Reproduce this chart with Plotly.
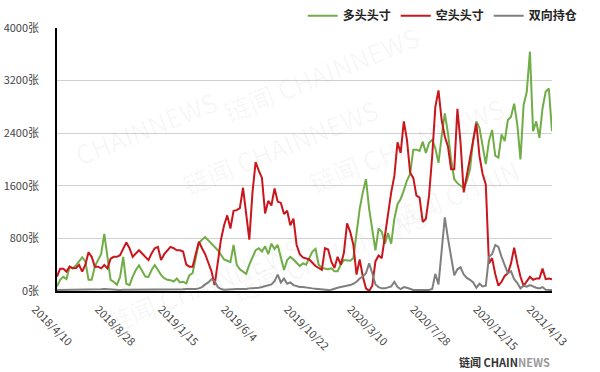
import pandas as pd
import plotly.graph_objects as go

# weekly dates
start_date = "2018-04-10"
n_weeks = 158
dates = pd.date_range(start_date, periods=n_weeks, freq="7D")

long_pos = [70, 170, 215, 180, 370, 345, 390, 460, 510, 450,
            170, 170, 370, 470, 560, 870, 480, 170, 140, 95,
            210, 520, 110, 90, 220, 320, 390, 300, 220, 215,
            320, 395, 320, 245, 195, 170, 165, 145, 190, 130,
            140, 115, 240, 270, 500, 730, 780, 820, 770, 720,
            680, 620, 550, 480, 460, 440, 700, 400, 330, 300,
            260, 400, 520, 620, 650, 600, 680, 560, 720, 640,
            700, 520, 320, 470, 520, 480, 430, 380, 420, 400,
            500, 600, 640, 400, 350, 335, 330, 345, 300, 300,
            400, 470, 470, 460, 500, 850, 1250, 1500, 1700, 1250,
            900, 620, 950, 900, 720, 880, 720, 1100, 1320, 1400,
            1530, 1680, 1780, 2150, 2150, 2130, 2270, 2100, 2250, 2300,
            2170, 1950, 2350, 2700, 2400, 2000, 1700, 1640, 1600, 1570,
            1680, 1850, 2300, 2580, 2480, 2180, 1930, 2280, 2450, 2060,
            2030, 2380, 2280, 2600, 2650, 2850, 2530, 2000, 2830, 3030,
            3640, 2430, 2580, 2330, 2780, 3030, 3080, 2430]

short_pos = [220, 340, 340, 295, 370, 345, 350, 395, 295, 400,
             590, 520, 370, 370, 345, 395, 345, 490, 520, 520,
             545, 650, 740, 650, 520, 570, 620, 570, 520, 470,
             570, 650, 670, 470, 560, 620, 670, 650, 620, 620,
             600, 400, 370, 370, 570, 750, 650, 560, 430, 300,
             90, 450, 780, 1000, 1150, 950, 1220, 1230, 1260, 1570,
             1200, 780, 1500, 1960, 1830, 1720, 1180, 1370, 1300, 1560,
             1360, 1340, 1170, 1220, 1000, 1100, 700, 560, 510, 500,
             480, 430, 380, 350, 320, 650, 630, 450, 350, 520,
             400, 580, 1030, 900, 700, 250, 480, 220, 40, 0,
             80, 450, 540, 500, 850, 1200, 1500, 1750, 2260, 2100,
             2580, 2300, 1800, 1720, 1450, 1420, 1050, 1100, 1450, 2050,
             2800, 3050, 2600, 2350, 2200, 1850, 1850, 2770, 2250, 1500,
             1760, 2000, 2300, 2550, 2050, 1780, 1620, 420, 500, 260,
             80, 140, 230, 270, 420, 660, 420, 217, 80, 140,
             216, 170, 190, 190, 340, 180, 190, 180]

both_pos = [15, 15, 20, 20, 15, 15, 20, 20, 15, 15,
            20, 25, 20, 20, 25, 30, 25, 20, 15, 15,
            15, 20, 20, 15, 15, 20, 20, 15, 15, 15,
            20, 20, 15, 15, 20, 25, 20, 15, 15, 20,
            25, 30, 30, 25, 30, 40, 60, 100, 130, 180,
            150, 60, 30, 20, 25, 30, 35, 30, 30, 25,
            30, 40, 40, 45, 50, 60, 70, 80, 100, 150,
            250, 130, 190, 110, 130, 90, 70, 60, 60, 50,
            40, 40, 35, 30, 20, 15, 15, 20, 40, 50,
            60, 70, 70, 90, 110, 140, 190, 220, 270, 420,
            270, 100, 60, 40, 40, 50, 70, 140, 60, 30,
            60, 50, 30, 15, 15, 15, 15, 15, 15, 30,
            260, 100, 600, 1120, 800, 520, 240, 330, 360, 250,
            200, 170, 130, 50, 110, 70, 80, 520, 560, 700,
            670, 520, 400, 270, 300, 180, 120, 40, 80, 65,
            90, 65, 50, 40, 60, 20, 20, 15]

series_names = ["多头头寸", "空头头寸", "双向持仓"]
series_colors = ["#70AD47", "#C9161C", "#7F7F7F"]

tick_dates = ["2018-04-10", "2018-08-28", "2019-01-15", "2019-06-04", "2019-10-22",
              "2020-03-10", "2020-07-28", "2020-12-15", "2021-04-13"]
tick_text = ["2018/4/10", "2018/8/28", "2019/1/15", "2019/6/4", "2019/10/22",
             "2020/3/10", "2020/7/28", "2020/12/15", "2021/4/13"]
y_ticks = [0, 800, 1600, 2400, 3200, 4000]
y_text = [f"{v}张" for v in y_ticks]

FONT = "Noto Sans CJK SC, Noto Sans, sans-serif"

fig = go.Figure()
for name, vals, col in zip(series_names, [long_pos, short_pos, both_pos], series_colors):
    fig.add_trace(go.Scatter(x=dates, y=vals, mode="lines", name=name,
                             line=dict(color=col, width=2)))

# faint watermarks
wm = [(0.32, 1.05, "链闻 CHAINNEWS"), (0.02, 0.62, "CHAINNEWS"), (0.45, 0.55, "链闻 CHAINNEWS"),
      (0.92, 0.78, "链闻 CHAINNEWS"), (0.08, -0.2, "链闻 CHAINNEWS"), (0.55, -0.08, "链闻 CHAINNEWS"),
      (0.95, 0.2, "链闻 CHAIN")]
for x, y, t in wm:
    fig.add_annotation(x=x, y=y, xref="paper", yref="paper", text=t, showarrow=False,
                       textangle=-22, font=dict(family=FONT, size=26, color="rgba(120,120,120,0.06)"))

# logo
fig.add_annotation(x=1.0, y=-0.27, xref="paper", yref="paper", xanchor="right", yanchor="middle",
                   text="<b>链闻 CHAIN</b><span style='color:#9a9a9a'><b>NEWS</b></span>",
                   showarrow=False, font=dict(family=FONT, size=11, color="#333333"))

fig.update_layout(
    width=600, height=372,
    margin=dict(l=57, r=48, t=28, b=81, autoexpand=False),
    paper_bgcolor="white", plot_bgcolor="white",
    font=dict(family=FONT, size=11, color="#333333"),
    showlegend=True,
    legend=dict(orientation="h", x=1.062, xanchor="right", y=1.102, yanchor="top",
                font=dict(family=FONT, size=12, color="#222222", weight="bold"),
                bgcolor="rgba(0,0,0,0)", itemwidth=30, tracegroupgap=0),
    xaxis=dict(range=[dates[0], dates[-1]], tickvals=pd.to_datetime(tick_dates), ticktext=tick_text,
               tickangle=45, showgrid=False, showline=True, linecolor="#000000", linewidth=1.5,
               ticks="", zeroline=False, tickfont=dict(size=11, color="#444444"),
               ticklabelshift=-22, ticklabelstandoff=6),
    yaxis=dict(range=[0, 4000], tickvals=y_ticks, ticktext=y_text, showgrid=True,
               gridcolor="#D0D0D0", gridwidth=1, showline=True, linecolor="#000000", linewidth=1.5,
               ticks="", zeroline=False, tickfont=dict(size=11, color="#444444"),
               ticklabelstandoff=14),
)

fig.write_html("out.html")
